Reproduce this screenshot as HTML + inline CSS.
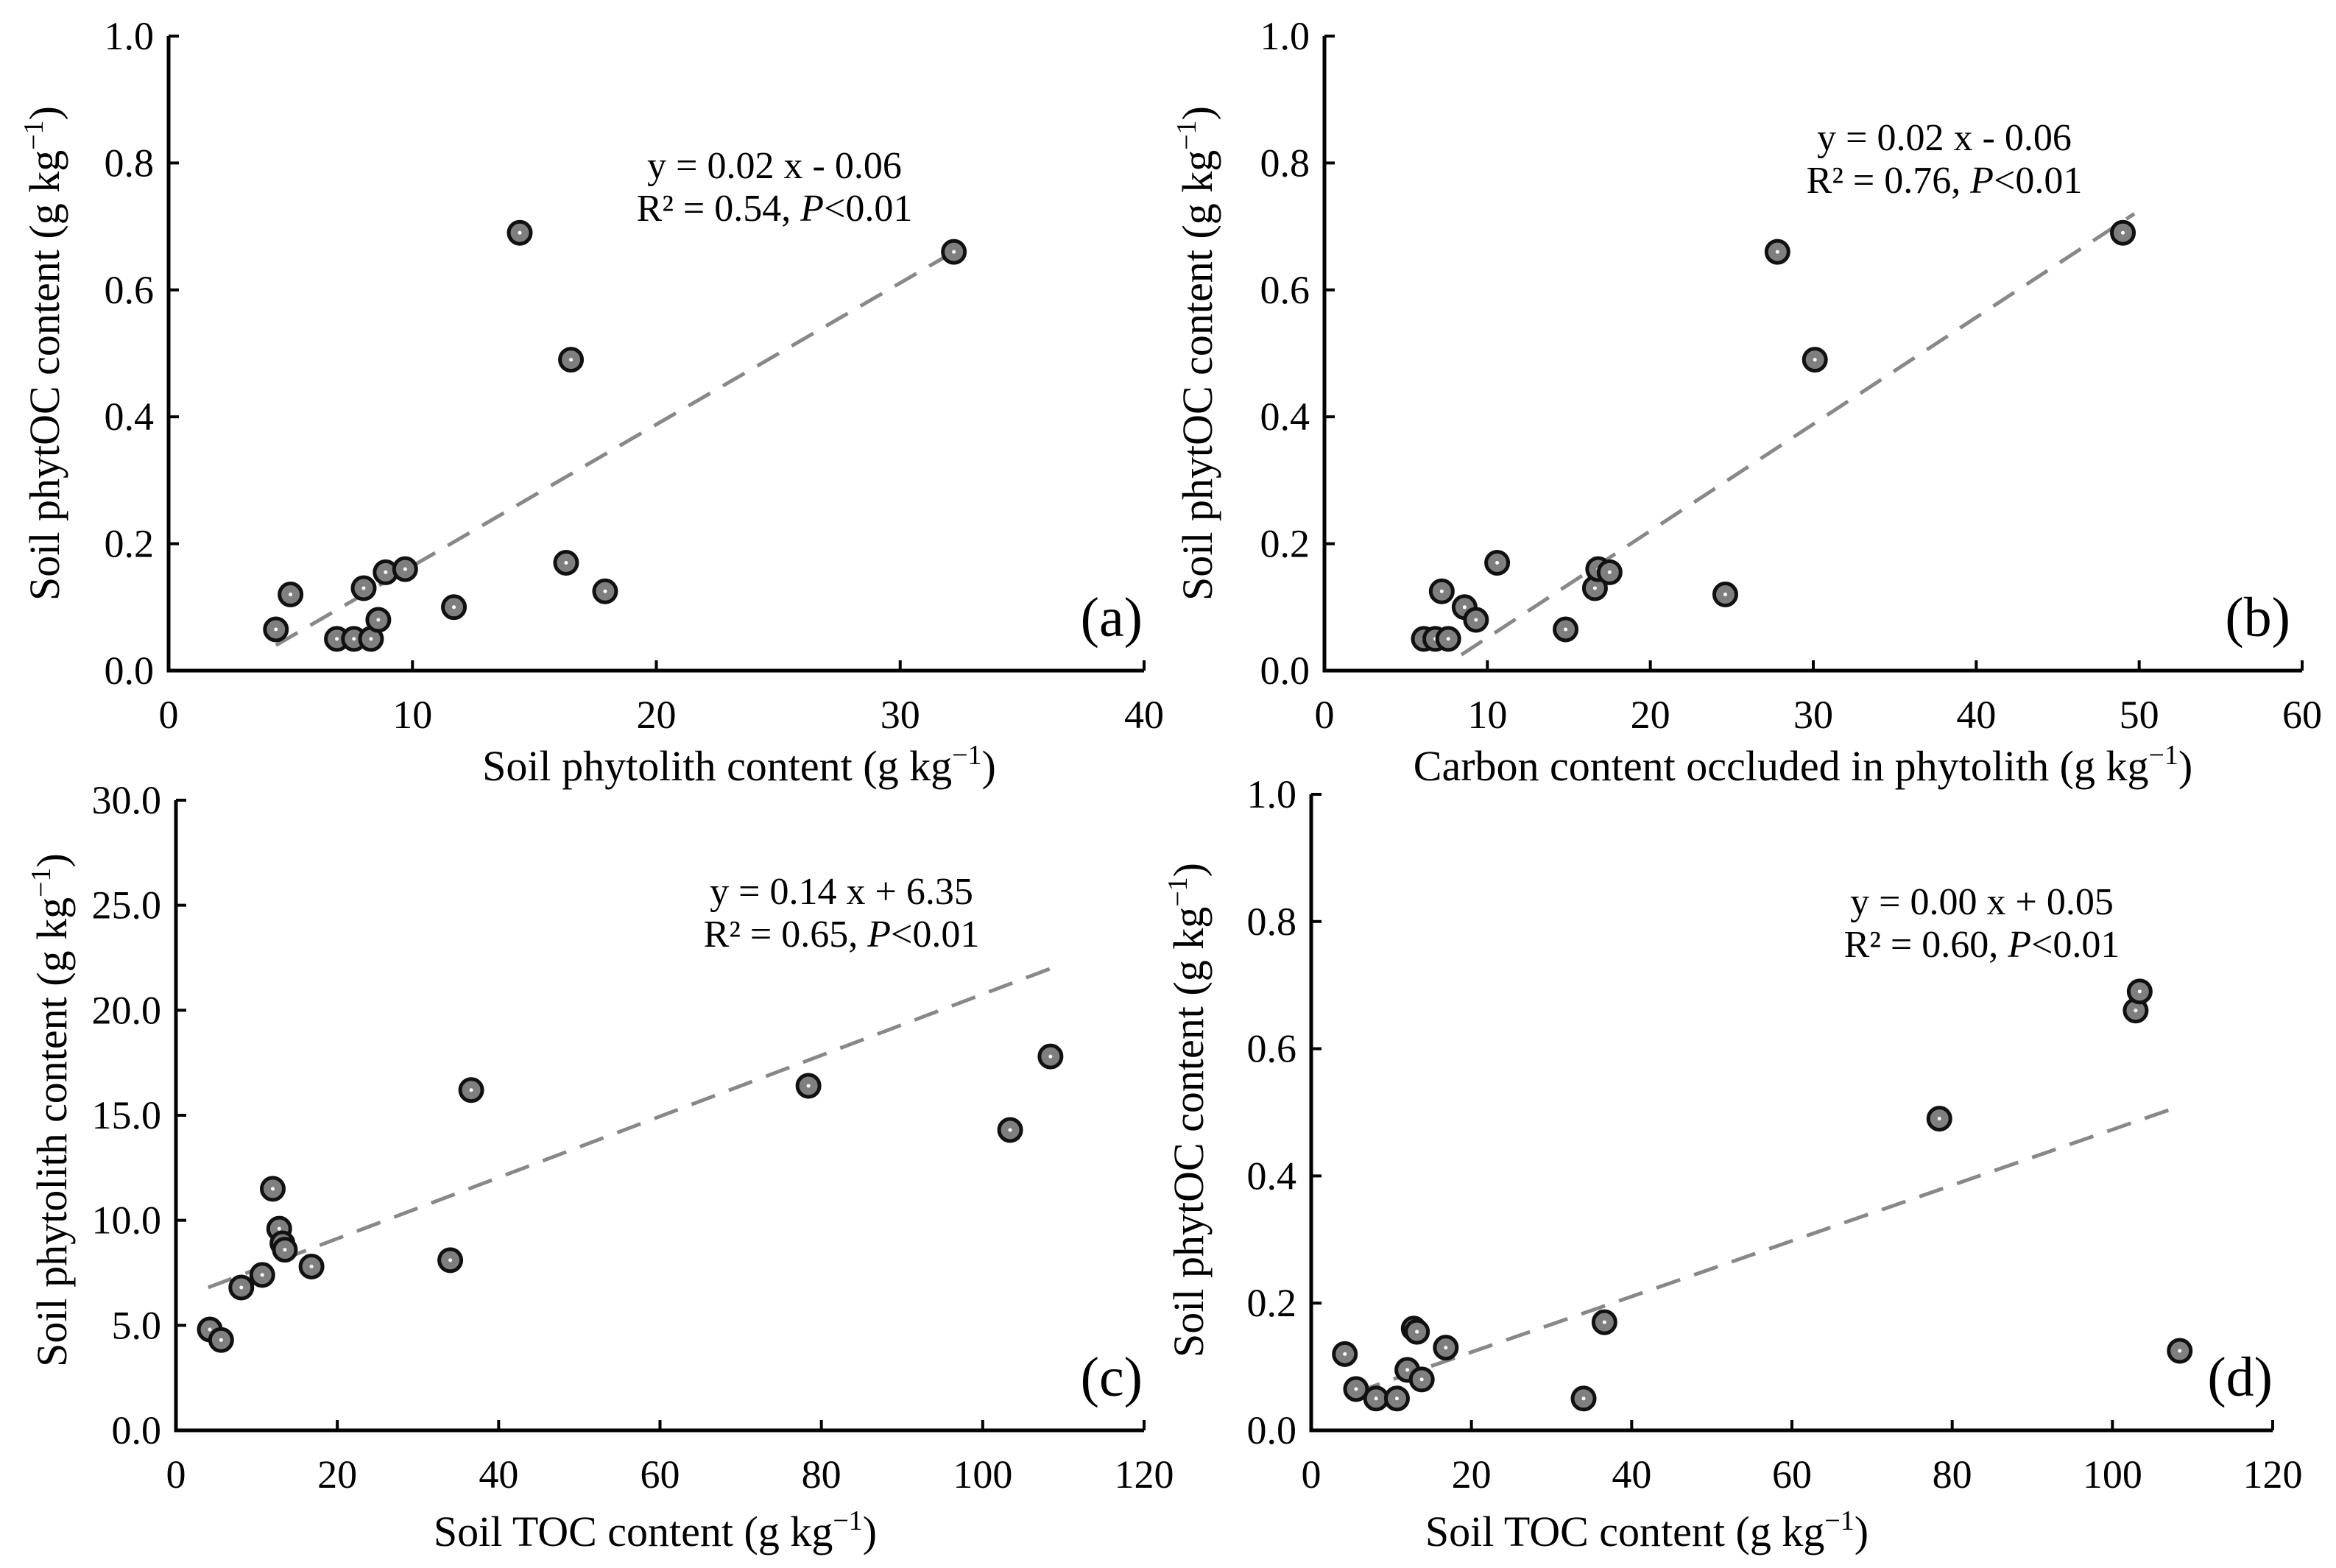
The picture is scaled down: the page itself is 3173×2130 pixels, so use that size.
<!DOCTYPE html>
<html><head><meta charset="utf-8"><style>
html,body{margin:0;padding:0;background:#fff}
svg{display:block;font-family:"Liberation Serif",serif}
</style></head><body>
<svg id="fig" width="3173" height="2130" viewBox="0 0 3173 2130" xmlns="http://www.w3.org/2000/svg"></svg>
<script>
// Panel (a)
const aX=[4.4,5.0,6.9,7.6,8.0,8.3,8.6,8.9,9.7,11.7,14.4,16.3,16.5,17.9,32.2];
const aY=[0.065,0.12,0.05,0.05,0.13,0.05,0.08,0.155,0.16,0.1,0.69,0.17,0.49,0.125,0.66];
const aLineX=[4.4,32.2];const aLineY=[0.04,0.66];
const aXTicks=[0,10,20,30,40];const aYTicks=[0.0,0.2,0.4,0.6,0.8,1.0];
// Panel (b)
const bX=[6.1,6.8,7.2,7.6,8.6,9.3,10.6,14.8,16.6,16.8,17.5,24.6,27.8,30.1,49.0];
const bY=[0.05,0.05,0.125,0.05,0.1,0.08,0.17,0.065,0.13,0.16,0.155,0.12,0.66,0.49,0.69];
const bLineX=[8.4,49.7];const bLineY=[0.025,0.72];
const bXTicks=[0,10,20,30,40,50,60];const bYTicks=[0.0,0.2,0.4,0.6,0.8,1.0];
// Panel (c)
const cX=[4.2,5.6,8.1,10.7,12.0,12.8,13.2,13.5,16.8,34.0,36.6,78.4,103.4,108.4];
const cY=[4.8,4.3,6.8,7.4,11.5,9.6,8.9,8.6,7.8,8.1,16.2,16.4,14.3,17.8];
const cLineX=[4,108.5];const cLineY=[6.8,22.0];
const cXTicks=[0,20,40,60,80,100,120];const cYTicks=[0,5,10,15,20,25,30];
// Panel (d)
const dX=[4.2,5.6,8.1,10.7,12.0,12.8,13.2,13.8,16.8,34.0,36.6,78.4,102.9,103.4,108.4];
const dY=[0.12,0.065,0.05,0.05,0.095,0.16,0.155,0.08,0.13,0.05,0.17,0.49,0.66,0.69,0.125];
const dLineX=[5.6,108.5];const dLineY=[0.06,0.51];
const dXTicks=[0,20,40,60,80,100,120];const dYTicks=[0.0,0.2,0.4,0.6,0.8,1.0];

const NS="http://www.w3.org/2000/svg";
const svg=document.getElementById('fig');
function mk(tag,attrs,parent,text){const e=document.createElementNS(NS,tag);for(const k in attrs)e.setAttribute(k,attrs[k]);if(text!==undefined)e.textContent=text;(parent||svg).appendChild(e);return e;}

const panels=[
 {id:'a',xs:aX,ys:aY,lx:aLineX,ly:aLineY,xt:aXTicks,yt:aYTicks,ydec:1,x0:229,x1:1554,y0:911,y1:49,xmax:40,ymax:1,
  xtitle:'Soil phytolith content (g kg',xtx:1004,xty:1060,ytitle:'Soil phytOC  content  (g kg',ytx:60,yty:480,
  eq1:'y = 0.02 x - 0.06',eq2:'R² = 0.54, ',ex:1052,ey:242,lab:'(a)',labx:1552,laby:864},
 {id:'b',xs:bX,ys:bY,lx:bLineX,ly:bLineY,xt:bXTicks,yt:bYTicks,ydec:1,x0:1799,x1:3127,y0:911,y1:49,xmax:60,ymax:1,
  xtitle:'Carbon content occluded in phytolith (g kg',xtx:2449,xty:1060,ytitle:'Soil phytOC content (g kg',ytx:1626,yty:480,
  eq1:'y = 0.02 x - 0.06',eq2:'R² = 0.76, ',ex:2641,ey:204,lab:'(b)',labx:3111,laby:864},
 {id:'c',xs:cX,ys:cY,lx:cLineX,ly:cLineY,xt:cXTicks,yt:cYTicks,ydec:1,x0:239,x1:1554,y0:1943,y1:1087,xmax:120,ymax:30,
  xtitle:'Soil TOC content (g kg',xtx:890,xty:2100,ytitle:'Soil phytolith content  (g kg',ytx:70,yty:1508,
  eq1:'y = 0.14 x + 6.35',eq2:'R² = 0.65, ',ex:1143,ey:1228,lab:'(c)',labx:1552,laby:1896},
 {id:'d',xs:dX,ys:dY,lx:dLineX,ly:dLineY,xt:dXTicks,yt:dYTicks,ydec:1,x0:1781,x1:3087,y0:1943,y1:1079,xmax:120,ymax:1,
  xtitle:'Soil TOC content (g kg',xtx:2237,xty:2100,ytitle:'Soil phytOC content (g kg',ytx:1614,yty:1508,
  eq1:'y = 0.00 x + 0.05',eq2:'R² = 0.60, ',ex:2692,ey:1242,lab:'(d)',labx:3087,laby:1896}
];

panels.forEach(p=>{
 const g=mk('g',{});
 
 
 const sx=v=>p.x0+(v/p.xmax)*(p.x1-p.x0);
 const sy=v=>p.y0-(v/p.ymax)*(p.y0-p.y1);
 const ax=mk('path',{d:`M${p.x0},${p.y1} V${p.y0} H${p.x1}`,fill:'none',stroke:'#000','stroke-width':5},g);
 
 
 p.yt.forEach(t=>{
  const y=sy(t);
  mk('line',{x1:p.x0,x2:p.x0+14,y1:y,y2:y,stroke:'#000','stroke-width':4},g);
  const tl=mk('text',{x:p.x0-20,y:y+18,'text-anchor':'end','font-size':54},g,t.toFixed(p.ydec));
  
  
 });
 p.xt.forEach(t=>{
  const x=sx(t);
  mk('line',{x1:x,x2:x,y1:p.y0,y2:p.y0-14,stroke:'#000','stroke-width':4},g);
  const tl=mk('text',{x:x,y:p.y0+78,'text-anchor':'middle','font-size':54},g,String(t));
  
  
 });
 const tr=mk('line',{x1:sx(p.lx[0]),y1:sy(p.ly[0]),x2:sx(p.lx[1]),y2:sy(p.ly[1]),stroke:'#888','stroke-width':5,'stroke-dasharray':'34,20'},g);
 
 
 p.xs.forEach((xv,i)=>{
  const c=mk('circle',{cx:sx(xv),cy:sy(p.ys[i]),r:15,fill:'#7f7f7f',stroke:'#111','stroke-width':5},g);
  
  
  mk('circle',{cx:sx(xv),cy:sy(p.ys[i]),r:2.5,fill:'#fff'},g);
 });
 const xt=mk('text',{x:p.xtx,y:p.xty,'text-anchor':'middle','font-size':58},g);
 
 
 xt.appendChild(document.createTextNode(p.xtitle));
 mk('tspan',{dy:-22,'font-size':38},xt,'−1');
 mk('tspan',{dy:22},xt,')');
 const yt=mk('text',{x:0,y:0,'text-anchor':'middle','font-size':58,transform:`translate(${p.ytx+20},${p.yty}) rotate(-90)`},g);
 
 
 yt.appendChild(document.createTextNode(p.ytitle));
 mk('tspan',{dy:-22,'font-size':38},yt,'−1');
 mk('tspan',{dy:22},yt,')');
 const e1=mk('text',{x:p.ex,y:p.ey,'text-anchor':'middle','font-size':52},g,p.eq1);
 
 
 const e2=mk('text',{x:p.ex,y:p.ey+58,'text-anchor':'middle','font-size':52},g,p.eq2);
 
 
 mk('tspan',{'font-style':'italic'},e2,'P');
 mk('tspan',{},e2,'<0.01');
 const lb=mk('text',{x:p.labx,y:p.laby,'text-anchor':'end','font-size':76},g,p.lab);
 
 
});
</script>
</body></html>
